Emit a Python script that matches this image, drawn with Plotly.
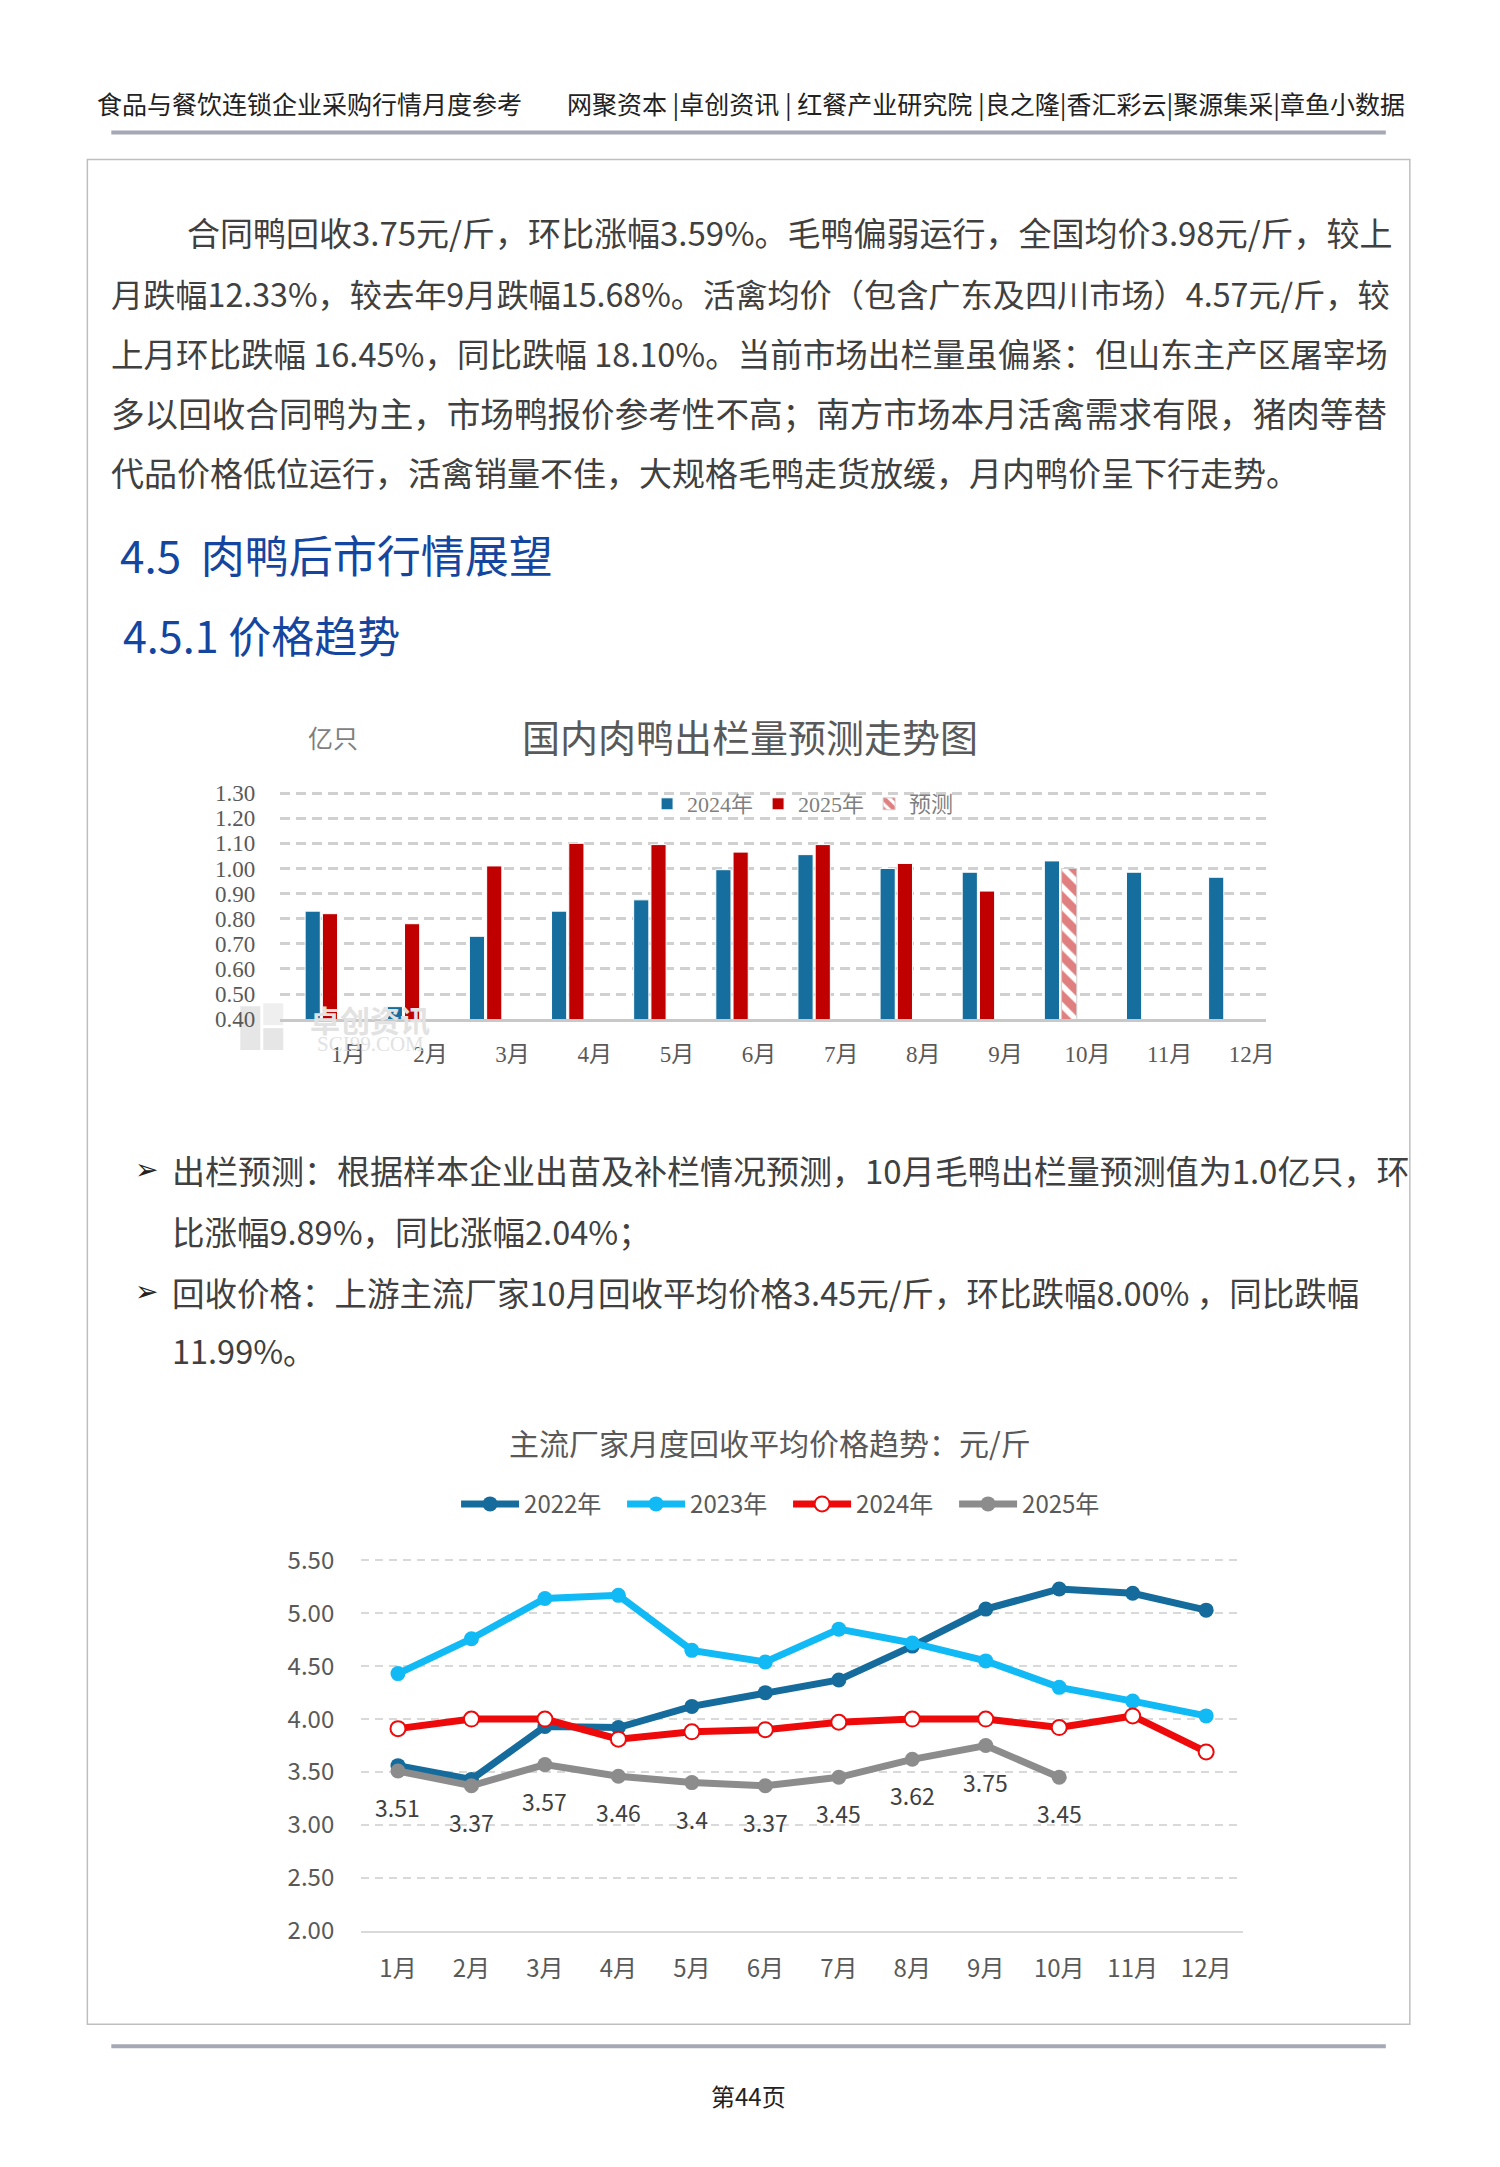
import plotly.graph_objects as go

# Figure sized so that, with the page's default 8px body margin, the page is 1500x2167.
W, H = 1500, 2167
M = 8
FW, FH = W - 2 * M, H - 2 * M

# small empirical calibration of page coordinates
def TX(p): return 1.0057 * p - 1.67
def TY(p): return 1.0098 * p - 12.2
def px(x): return (TX(x) - M) / FW
def py(y): return 1 - (TY(y) - M) / FH

FONT = "Noto Sans CJK SC"
BODY = "Liberation Sans Narrow, Noto Sans CJK SC"
SERIF = "Liberation Serif, Noto Sans CJK SC"

# ---------------- data ----------------
months = ["1月", "2月", "3月", "4月", "5月", "6月", "7月", "8月", "9月", "10月", "11月", "12月"]

out_2024 = [0.83, 0.45, 0.73, 0.83, 0.875, 0.995, 1.055, 1.00, 0.985, 1.03, 0.985, 0.965]
out_2025 = [0.82, 0.78, 1.01, 1.10, 1.095, 1.065, 1.095, 1.02, 0.91, None, None, None]
out_forecast = [None, None, None, None, None, None, None, None, None, 1.00, None, None]
bar_ticks = [0.40, 0.50, 0.60, 0.70, 0.80, 0.90, 1.00, 1.10, 1.20, 1.30]

price_2022 = [3.56, 3.43, 3.93, 3.92, 4.12, 4.25, 4.37, 4.69, 5.04, 5.23, 5.19, 5.03]
price_2023 = [4.43, 4.76, 5.14, 5.17, 4.65, 4.54, 4.85, 4.72, 4.55, 4.30, 4.17, 4.03]
price_2024 = [3.91, 4.00, 4.00, 3.81, 3.88, 3.90, 3.97, 4.00, 4.00, 3.92, 4.03, 3.69]
price_2025 = [3.51, 3.37, 3.57, 3.46, 3.40, 3.37, 3.45, 3.62, 3.75, 3.45]
price_2025_labels = ["3.51", "3.37", "3.57", "3.46", "3.4", "3.37", "3.45", "3.62", "3.75", "3.45"]
line_ticks = [2.00, 2.50, 3.00, 3.50, 4.00, 4.50, 5.00, 5.50]

para_lines = [
    "合同鸭回收3.75元/斤，环比涨幅3.59%。毛鸭偏弱运行，全国均价3.98元/斤，较上",
    "月跌幅12.33%，较去年9月跌幅15.68%。活禽均价（包含广东及四川市场）4.57元/斤，较",
    "上月环比跌幅 16.45%，同比跌幅 18.10%。当前市场出栏量虽偏紧：但山东主产区屠宰场",
    "多以回收合同鸭为主，市场鸭报价参考性不高；南方市场本月活禽需求有限，猪肉等替",
    "代品价格低位运行，活禽销量不佳，大规格毛鸭走货放缓，月内鸭价呈下行走势。",
]
bullet_lines = [
    ("➢", "出栏预测：根据样本企业出苗及补栏情况预测，10月毛鸭出栏量预测值为1.0亿只，环"),
    ("", "比涨幅9.89%，同比涨幅2.04%；"),
    ("➢", "回收价格：上游主流厂家10月回收平均价格3.45元/斤，环比跌幅8.00% ，同比跌幅"),
    ("", "11.99%。"),
]

BLUE = "#156E9E"
RED = "#C00000"
TXT = "#404040"

fig = go.Figure()

# ---------------- bar chart ----------------
fig.add_trace(go.Bar(x=months, y=out_2024, name="2024年", marker=dict(color=BLUE, line=dict(color="white", width=1)),
                     offsetgroup="a", xaxis="x", yaxis="y", legend="legend"))
fig.add_trace(go.Bar(x=months, y=out_2025, name="2025年", marker=dict(color=RED, line=dict(color="white", width=1)),
                     offsetgroup="b", xaxis="x", yaxis="y", legend="legend"))
fig.add_trace(go.Bar(x=months, y=out_forecast, name="预测",
                     marker=dict(color="white", line=dict(color="#D0D0D0", width=1),
                                 pattern=dict(shape="\\", fgcolor=RED, bgcolor="white", size=14, solidity=0.6)),
                     offsetgroup="b", xaxis="x", yaxis="y", legend="legend"))

# ---------------- line chart ----------------
fig.add_trace(go.Scatter(x=months, y=price_2022, name="2022年", mode="lines+markers",
                         line=dict(color="#156C9C", width=7), marker=dict(size=15, color="#156C9C"),
                         xaxis="x2", yaxis="y2", legend="legend2"))
fig.add_trace(go.Scatter(x=months, y=price_2023, name="2023年", mode="lines+markers",
                         line=dict(color="#12BAF5", width=7), marker=dict(size=15, color="#12BAF5"),
                         xaxis="x2", yaxis="y2", legend="legend2"))
fig.add_trace(go.Scatter(x=months, y=price_2024, name="2024年", mode="lines+markers",
                         line=dict(color="#EE0A0A", width=7),
                         marker=dict(size=15, color="white", line=dict(color="#EE0A0A", width=2)),
                         xaxis="x2", yaxis="y2", legend="legend2"))
fig.add_trace(go.Scatter(x=months[:len(price_2025)], y=price_2025, name="2025年", mode="lines+markers",
                         line=dict(color="#8C8C8C", width=7), marker=dict(size=15, color="#8C8C8C"),
                         xaxis="x2", yaxis="y2", legend="legend2"))

annotations = []
for m, v, t in zip(months, price_2025, price_2025_labels):
    annotations.append(dict(x=m, y=v, xref="x2", yref="y2", text=t, showarrow=False, yshift=-36,
                            font=dict(family=BODY, size=23, color=TXT)))

def text(x, y, t, size, color=TXT, family=FONT, anchor="left"):
    annotations.append(dict(x=px(x), y=py(y), xref="paper", yref="paper", xanchor=anchor, yanchor="middle",
                            text=t, showarrow=False, font=dict(family=family, size=size, color=color)))

# ---------------- page text ----------------
text(97, 101, "食品与餐饮连锁企业采购行情月度参考", 25, "#222222")
text(1409, 101, "网聚资本 |卓创资讯 | 红餐产业研究院 |良之隆|香汇彩云|聚源集采|章鱼小数据", 25, "#222222", anchor="right")

# the source paragraph is justified; per-line sizes approximate the justified line widths
para_y = [231, 292, 352, 412, 472]
para_size = [33, 32.2, 32.5, 33.6, 33]
for i, (t, y, s) in enumerate(zip(para_lines, para_y, para_size)):
    text(187 if i == 0 else 111, y, t, s, family=BODY)

text(120, 554, "4.5  肉鸭后市行情展望", 44, "#1446A0")
text(123, 634, "4.5.1 价格趋势", 43, "#1446A0")

bullet_y = [1172, 1233, 1294, 1353]
bullet_size = [33, 32.5, 32.5, 32.5]
for (b, t), y, s in zip(bullet_lines, bullet_y, bullet_size):
    if b:
        text(148, y, b, 28, "#222222", family="DejaVu Sans", anchor="center")
    text(172, y, t, s, family=BODY)

# bar chart titles / watermark
text(752, 740, "国内肉鸭出栏量预测走势图", 38, "#595959", family=SERIF, anchor="center")
text(335, 740, "亿只", 25, "#7F7F7F", family=SERIF, anchor="center")
text(372, 1021, "<b>卓创资讯</b>", 30, "#E2E2E2", anchor="center")
text(372, 1046, "SCI99.COM", 21, "#E2E2E2", family="Liberation Serif", anchor="center")

# line chart title
text(772, 1445, "主流厂家月度回收平均价格趋势：元/斤", 30, "#595959", family=BODY, anchor="center")

text(750, 2101, "第44页", 24, "#222222", anchor="center")

# ---------------- shapes ----------------
def rect(x0, x1, y0, y1, **kw):
    return dict(type="rect", xref="paper", yref="paper", x0=px(x0), x1=px(x1), y0=py(y0), y1=py(y1), **kw)

def hline(x0, x1, y, **kw):
    return dict(type="line", xref="paper", yref="paper", x0=px(x0), x1=px(x1), y0=py(y), y1=py(y), **kw)

shapes = [
    hline(113, 1388, 131, line=dict(color="#A5A8B5", width=4)),
    rect(89, 1412, 158, 2030, line=dict(color="#BFBFBF", width=1.5)),
    hline(113, 1388, 2052, line=dict(color="#A5A8B5", width=4)),
    # watermark logo blocks
    rect(242, 262, 1052, 1008, fillcolor="#E6E6E6", line=dict(width=0), layer="below"),
    rect(265, 285, 1052, 1030, fillcolor="#E6E6E6", line=dict(width=0), layer="below"),
    rect(265, 285, 1027, 1005, fillcolor="#EFEFEF", line=dict(width=0), layer="below"),
]

bar_x0, bar_x1 = 282, 1268
bar_ytop, bar_ybot = 789, 1021
line_x0, line_x1 = 363, 1245
line_ytop, line_ybot = 1559, 1936

fig.update_layout(
    width=FW, height=FH,
    margin=dict(l=0, r=0, t=0, b=0),
    paper_bgcolor="white", plot_bgcolor="white",
    barmode="group", bargap=0.58, bargroupgap=0.12,
    annotations=annotations, shapes=shapes,
    xaxis=dict(domain=[px(bar_x0), px(bar_x1)], anchor="y", type="category", categoryorder="array",
               categoryarray=months, range=[-0.5, 11.5], showgrid=False, showline=True, linecolor="#C8C8C8",
               linewidth=3, ticks="", ticklabelshift=27, ticklabelstandoff=12,
               tickfont=dict(family=SERIF, size=23, color="#595959")),
    yaxis=dict(domain=[py(bar_ybot), py(bar_ytop)], anchor="x", range=[0.40, 1.32], tickvals=bar_ticks,
               tickformat=".2f", showgrid=True, gridcolor="#D0D0D0", gridwidth=3, griddash="10px,6px",
               zeroline=False, ticks="", ticklabelstandoff=24,
               tickfont=dict(family=SERIF, size=23, color="#595959")),
    xaxis2=dict(domain=[px(line_x0), px(line_x1)], anchor="y2", type="category", categoryorder="array",
                categoryarray=months, range=[-0.5, 11.5], showgrid=False, showline=True, linecolor="#D9D9D9",
                linewidth=2, ticks="", ticklabelstandoff=16,
                tickfont=dict(family=BODY, size=24, color="#595959")),
    yaxis2=dict(domain=[py(line_ybot), py(line_ytop)], anchor="x2", range=[2.0, 5.55], tickvals=line_ticks,
                tickformat=".2f", showgrid=True, gridcolor="#D9D9D9", gridwidth=2, griddash="8px,6px",
                zeroline=False, ticks="", ticklabelstandoff=26,
                tickfont=dict(family=BODY, size=24, color="#595959")),
    legend=dict(orientation="h", x=px(805), y=py(805), xanchor="center", yanchor="middle",
                bgcolor="rgba(0,0,0,0)", font=dict(family=SERIF, size=22, color="#7F7F7F"),
                itemwidth=30, tracegroupgap=0),
    legend2=dict(orientation="h", x=px(790), y=py(1508), xanchor="center", yanchor="middle",
                 bgcolor="rgba(0,0,0,0)", font=dict(family=BODY, size=24, color="#595959"),
                 itemwidth=58, entrywidth=93),
    showlegend=True,
)

fig.write_html("out.html")
